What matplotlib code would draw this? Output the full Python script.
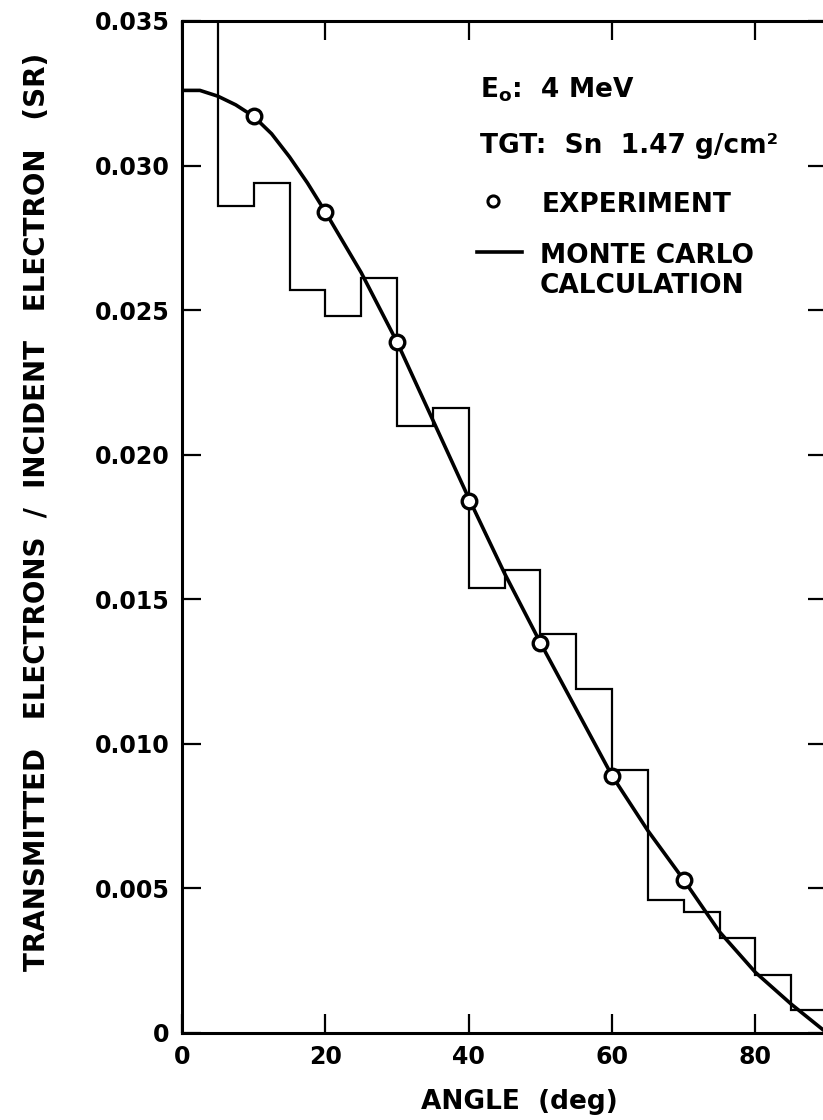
import numpy as np
import matplotlib
matplotlib.use('Agg')
import matplotlib.pyplot as plt

plt.rcParams['font.family'] = 'DejaVu Sans'
plt.rcParams['font.weight'] = 'bold'
plt.rcParams['mathtext.fontset'] = 'custom'
plt.rcParams['mathtext.rm'] = 'DejaVu Sans:bold'

# Monte Carlo histogram, 5 degree bins (first bin runs off the top)
bin_edges = [0, 5, 10, 15, 20, 25, 30, 35, 40, 45, 50, 55, 60, 65, 70, 75, 80, 85, 90]
mc_hist = [0.040, 0.0286, 0.0294, 0.0257, 0.0248, 0.0261, 0.0210, 0.0216, 0.0154,
           0.0160, 0.0138, 0.0119, 0.0091, 0.0046, 0.0042, 0.0033, 0.0020, 0.0008]

# smooth Monte Carlo curve
curve_angle = [0, 2.5, 5, 7.5, 10, 12.5, 15, 17.5, 20, 25, 30, 35, 40, 45, 50, 55,
               60, 65, 70, 75, 80, 85, 90]
curve_val = [0.0326, 0.0326, 0.0324, 0.0321, 0.0317, 0.0311, 0.0303, 0.0294, 0.0284,
             0.0263, 0.0239, 0.0212, 0.0185, 0.0159, 0.0135, 0.0112, 0.0089, 0.0070,
             0.0053, 0.0035, 0.0021, 0.0010, 0.0]

# experiment
exp_angle = [10, 20, 30, 40, 50, 60, 70]
exp_val = [0.0317, 0.0284, 0.0239, 0.0184, 0.0135, 0.0089, 0.0053]

xticks = [0, 20, 40, 60, 80]
yticks = [0, 0.005, 0.010, 0.015, 0.020, 0.025, 0.030, 0.035]
ytick_labels = ['0', '0.005', '0.010', '0.015', '0.020', '0.025', '0.030', '0.035']

W, H = 823, 1120
fig = plt.figure(figsize=(W / 100, H / 100), dpi=100)
# axes box in pixels: left 182, right 827 (past the edge), top 21, bottom 1033
L, R, T, B = 182, 827, 21, 1033
ax = fig.add_axes([L / W, (H - B) / H, (R - L) / W, (B - T) / H])

ax.stairs(mc_hist, bin_edges, color='black', lw=1.6, baseline=None)
ax.plot(curve_angle, curve_val, color='black', lw=2.6, solid_capstyle='butt')
ax.plot(exp_angle, exp_val, 'o', ms=10.5, mfc='white', mec='black', mew=2.4)

ax.set_xlim(0, 90)
ax.set_ylim(0, 0.035)
ax.set_xticks(xticks)
ax.set_xticklabels([str(v) for v in xticks])
ax.set_yticks(yticks)
ax.set_yticklabels(ytick_labels)
ax.tick_params(direction='in', length=13.5, width=1.6, top=True, right=True,
               labelsize=17, pad=9)
for s in ax.spines.values():
    s.set_linewidth(2.2)

def px(x, y):
    return (x - L) / (R - L), (B - y) / (B - T)

tf = ax.transAxes
fs = 19
ax.text(*px(480, 97), r'E$_\mathregular{o}$:  4 MeV', transform=tf, fontsize=fs,
        va='baseline')
ax.text(*px(480, 153), 'TGT:  Sn  1.47 g/cm²', transform=tf, fontsize=fs,
        va='baseline')
ax.plot(*px(493, 201), 'o', transform=tf, ms=8, mfc='white', mec='black', mew=2.2,
        clip_on=False)
ax.text(*px(542, 212), 'EXPERIMENT', transform=tf, fontsize=fs, va='baseline')
x0, y0 = px(477, 252)
x1, _ = px(522, 252)
ax.plot([x0, x1], [y0, y0], transform=tf, color='black', lw=2.6, clip_on=False)
ax.text(*px(540, 263), 'MONTE CARLO', transform=tf, fontsize=fs, va='baseline')
ax.text(*px(540, 293), 'CALCULATION', transform=tf, fontsize=fs, va='baseline')

fig.text(519 / W, 1 - 1102 / H, 'ANGLE  (deg)', fontsize=19,
         ha='center', va='center')
fig.text(37 / W, 1 - 512 / H, 'TRANSMITTED   ELECTRONS  /  INCIDENT   ELECTRON   (SR)',
         fontsize=20, rotation=90, ha='center', va='center')

fig.savefig('out.png', dpi=100)
